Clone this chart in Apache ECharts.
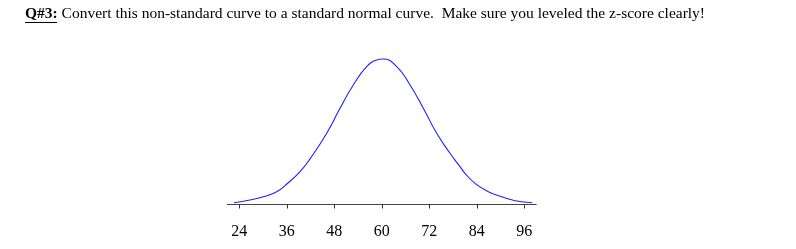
<!DOCTYPE html>
<html>
<head>
<meta charset="utf-8">
<script src="https://cdn.jsdelivr.net/npm/echarts@6/dist/echarts.min.js"></script>
<style>
html,body{margin:0;padding:0;background:#fff;}
#chart{width:796px;height:249px;}
</style>
</head>
<body>
<div id="chart"></div>
<script>
// Values
const titleLabel = 'Q#3:';
const titleText = ' Convert this non-standard curve to a standard normal curve.  Make sure you leveled the z-score clearly!';
const xValues = [22.66, 26.70, 30.06, 33.45, 36.38, 39.34, 42.0, 46.08, 49.44, 52.80, 56.18, 58.71, 60.31, 63.77, 67.13, 70.49, 73.87, 77.23, 79.76, 81.02, 83.55, 86.91, 90.30, 93.66, 98.03];
const densities = [0.00041, 0.00103, 0.00178, 0.00292, 0.00498, 0.00749, 0.01060, 0.01627, 0.02198, 0.02730, 0.03148, 0.03301, 0.03324, 0.03148, 0.02730, 0.02198, 0.01627, 0.01170, 0.00864, 0.00713, 0.00484, 0.00292, 0.00178, 0.00087, 0.00041];
const tickValues = [24, 36, 48, 60, 72, 84, 96];

const chart = echarts.init(document.getElementById('chart'), null, {renderer: 'canvas'});
chart.setOption({
  animation: false,
  backgroundColor: '#fff',
  title: {
    left: 25,
    top: 6,
    padding: 0,
    text: '{b|' + titleLabel + '}{n|' + titleText + '}',
    textStyle: {
      fontWeight: 'normal',
      rich: {
        b: {fontFamily: 'Liberation Serif', fontSize: 15.5, fontWeight: 'bold', color: '#000'},
        n: {fontFamily: 'Liberation Serif', fontSize: 15.5, fontWeight: 'normal', color: '#000'}
      }
    }
  },
  graphic: [{
    type: 'line',
    shape: {x1: 25, y1: 22.5, x2: 57, y2: 22.5},
    style: {stroke: '#000', lineWidth: 1}
  }],
  grid: {left: 227.4, right: 259.8, top: 51.3, bottom: 39.5},
  xAxis: {
    type: 'value',
    min: 21,
    max: 99,
    splitLine: {show: false},
    axisLine: {show: true, lineStyle: {color: '#444', width: 1}},
    axisTick: {show: true, customValues: tickValues, length: 4, lineStyle: {color: '#333'}},
    axisLabel: {
      customValues: tickValues,
      margin: 14,
      fontFamily: 'Liberation Serif',
      fontSize: 16,
      color: '#000'
    }
  },
  yAxis: {
    type: 'value',
    min: -0.00114,
    max: 0.035,
    show: false
  },
  series: [{
    type: 'line',
    data: xValues.map((x, i) => [x, densities[i]]),
    smooth: 0.5,
    showSymbol: false,
    lineStyle: {color: '#1f1fff', width: 1.1}
  }]
});
</script>
</body>
</html>
